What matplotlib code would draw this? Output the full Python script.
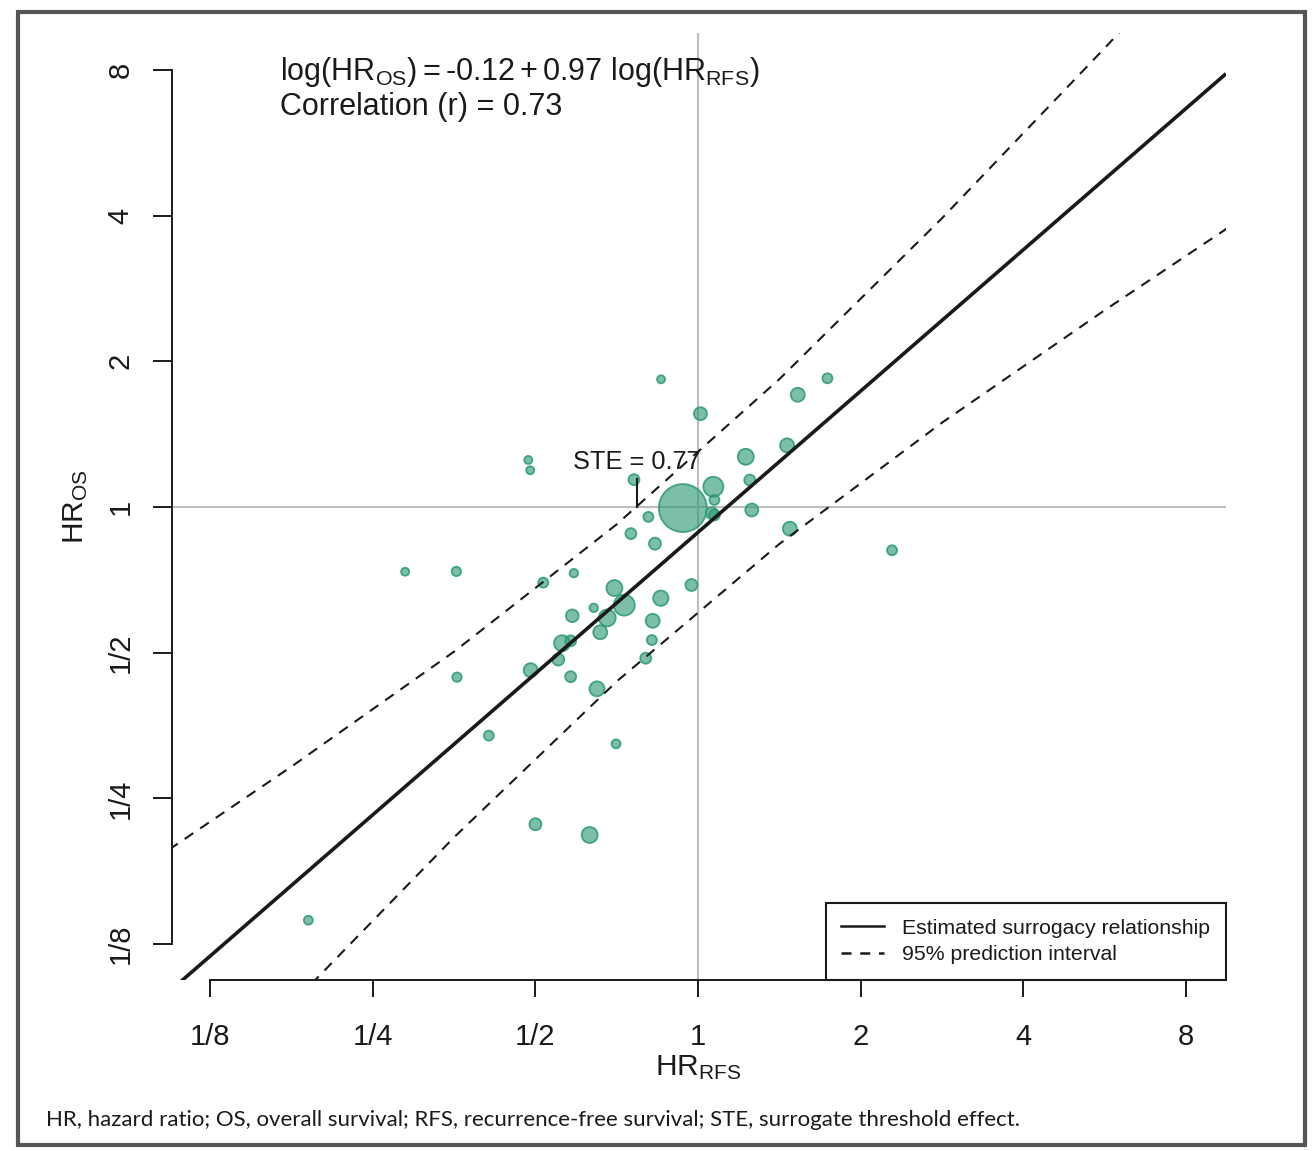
import numpy as np
import matplotlib
matplotlib.use("Agg")
import matplotlib.pyplot as plt
from matplotlib.lines import Line2D
from matplotlib.patches import Rectangle

plt.rcParams['font.family'] = ['Liberation Sans', 'DejaVu Sans']
plt.rcParams['mathtext.fontset'] = 'custom'
plt.rcParams['mathtext.rm'] = 'Liberation Sans'
plt.rcParams['mathtext.it'] = 'Liberation Sans'
plt.rcParams['mathtext.bf'] = 'Liberation Sans:bold'

# trial-level hazard ratios
hr_rfs = [0.854, 1.735, 1.529, 1.010, 1.461, 1.225, 0.485, 0.489, 0.761, 1.067,
          1.246, 1.072, 0.937, 1.060, 1.072, 1.257, 0.809, 1.478, 0.751, 0.832,
          2.285, 0.287, 0.357, 0.517, 0.589, 0.700, 0.972, 0.730, 0.853, 0.641,
          0.585, 0.679, 0.824, 0.659, 0.560, 0.581, 0.821, 0.551, 0.800, 0.490,
          0.358, 0.581, 0.650, 0.410, 0.705, 0.500, 0.630, 0.190]
hr_os = [1.836, 1.845, 1.706, 1.559, 1.341, 1.270, 1.251, 1.191, 1.139, 1.101,
         1.137, 1.034, 0.995, 0.971, 0.963, 0.986, 0.954, 0.902, 0.881, 0.840,
         0.814, 0.735, 0.736, 0.698, 0.730, 0.680, 0.690, 0.627, 0.648, 0.619,
         0.596, 0.590, 0.582, 0.551, 0.523, 0.529, 0.531, 0.484, 0.487, 0.460,
         0.445, 0.446, 0.421, 0.337, 0.324, 0.221, 0.210, 0.140]
# relative trial weight (marker area)
weight = [16, 25, 49, 42, 49, 64, 16, 16, 30, 100,
          30, 25, 576, 36, 30, 42, 25, 49, 30, 36,
          25, 16, 22, 25, 18, 64, 36, 110, 59, 18,
          40, 72, 49, 49, 64, 30, 25, 36, 30, 49,
          22, 30, 56, 25, 20, 36, 64, 20]

# surrogacy equation: log(HR_OS) = a + b log(HR_RFS)
intercept = -0.12
slope = 0.97
corr = 0.73
ste = 0.77

# 95% prediction interval
pi_rfs = [0.105, 0.177, 0.354, 0.707, 1.414, 2.83, 5.66, 9.51]
pi_upper = [0.196, 0.291, 0.503, 0.921, 1.838, 3.956, 8.89, 16.55]
pi_lower = [0.0508, 0.0939, 0.208, 0.436, 0.839, 1.495, 2.553, 3.761]

ticks = [1/8, 1/4, 1/2, 1, 2, 4, 8]
tick_labels = ['1/8', '1/4', '1/2', '1', '2', '4', '8']

W, H = 1316, 1151
fig = plt.figure(figsize=(W/100, H/100), dpi=100)
ax = fig.add_axes([172/W, 1-980/H, (1226-172)/W, (980-33)/H])
ax.set_xscale('log', base=2)
ax.set_yscale('log', base=2)
ax.set_xlim(2**-3.234, 2**3.245)
ax.set_ylim(2**-3.247, 2**3.254)

ax.axvline(1, color='#bdbdbd', lw=1.5, zorder=1)
ax.axhline(1, color='#bdbdbd', lw=1.5, zorder=1)

green = (0.17, 0.60, 0.46)
ax.scatter(hr_rfs, hr_os, s=np.array(weight)*2.07, facecolor=green + (0.62,),
           edgecolor=green + (0.85,), linewidth=1.3, zorder=3)

xr = np.array(ax.get_xlim())
ax.plot(xr, np.exp(intercept) * xr**slope, color='#1a1a1a', lw=2.6, zorder=4,
        solid_capstyle='butt')
ax.plot(pi_rfs, pi_upper, color='#1a1a1a', lw=1.5, dashes=(5, 4), zorder=4)
ax.plot(pi_rfs, pi_lower, color='#1a1a1a', lw=1.5, dashes=(5, 4), zorder=4)

# surrogate threshold effect
ax.plot([ste, ste], [1, 1.145], color='#1a1a1a', lw=1.5, zorder=5)
ax.text(ste, 1.24, 'STE = {:.2f}'.format(ste), ha='center', va='center',
        fontsize=18.3, color='#1a1a1a', zorder=6)

ax.text(2**-2.57, 2**2.93,
        r'$\log(\mathrm{HR}_{\mathrm{OS}})=\text{-}0.12+0.97\ '
        r'\log(\mathrm{HR}_{\mathrm{RFS}})$',
        fontsize=22, color='#1a1a1a', va='baseline')
ax.text(2**-2.57, 2**2.69, 'Correlation (r) = {:.2f}'.format(corr),
        fontsize=22, color='#1a1a1a', va='baseline')

for side in ['top', 'right']:
    ax.spines[side].set_visible(False)
for side in ['left', 'bottom']:
    ax.spines[side].set_bounds(1/8, 8)
    ax.spines[side].set_linewidth(1.4)
    ax.spines[side].set_color('#1a1a1a')
ax.set_xticks(ticks)
ax.set_xticklabels(tick_labels)
ax.set_yticks(ticks)
ax.set_yticklabels(tick_labels, rotation=90, va='center')
ax.minorticks_off()
ax.tick_params(axis='x', length=12, width=1.4, color='#1a1a1a', labelsize=21, pad=19,
               labelcolor='#1a1a1a')
ax.tick_params(axis='y', length=14, width=1.4, color='#1a1a1a', labelsize=21, pad=13,
               labelcolor='#1a1a1a')

fig.text(76/W, 1-507/H, r'$\mathrm{HR}_{\mathrm{OS}}$', rotation=90, ha='center',
         va='center', fontsize=21.5, color='#1a1a1a')
fig.text(698/W, 1-1068/H, r'$\mathrm{HR}_{\mathrm{RFS}}$', ha='center', va='center',
         fontsize=21.5, color='#1a1a1a')

handles = [Line2D([], [], color='#1a1a1a', lw=1.8),
           Line2D([], [], color='#1a1a1a', lw=1.8, dashes=(4, 3.5))]
leg = ax.legend(handles, ['Estimated surrogacy relationship', '95% prediction interval'],
                loc='lower right', bbox_to_anchor=(1, 0), borderaxespad=0,
                fontsize=15.3, fancybox=False, handlelength=2.0, handletextpad=0.85,
                borderpad=0.75, labelspacing=0.35, framealpha=1)
leg.get_frame().set_edgecolor('#1a1a1a')
leg.get_frame().set_linewidth(1.5)
for t in leg.get_texts():
    t.set_color('#1a1a1a')

fig.text(46/W, 1-1120/H,
         'HR, hazard ratio; OS, overall survival; RFS, recurrence-free survival; '
         'STE, surrogate threshold effect.',
         family=['Lato', 'DejaVu Sans'], fontsize=16, va='center', color='#1a1a1a')

fig.patches.append(Rectangle((18/W, 1-1145/H), (1305-18)/W, (1145-12)/H, fill=False,
                             lw=3, edgecolor='#555555', transform=fig.transFigure))

fig.savefig('out.png', dpi=100)
